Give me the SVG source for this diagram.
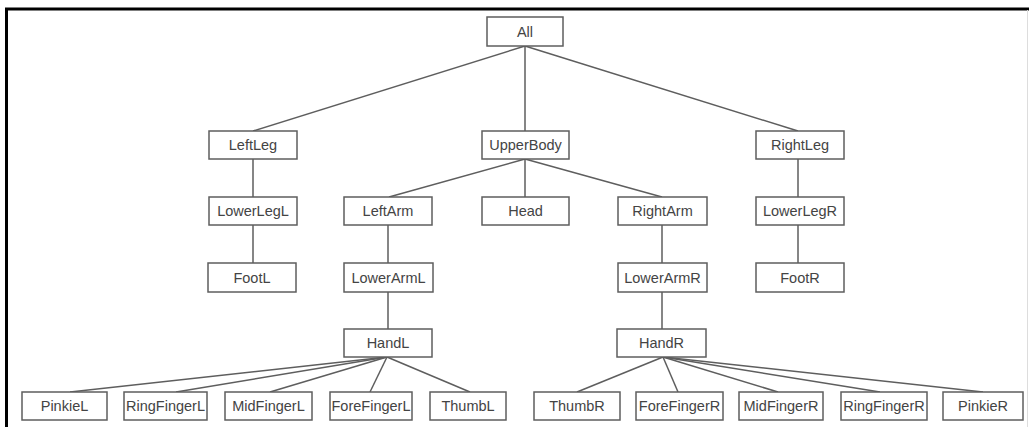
<svg xmlns="http://www.w3.org/2000/svg" width="1029" height="427" viewBox="0 0 1029 427">
<style>
.n rect{fill:#fff;stroke:#5e5e5e;stroke-width:1.5}
.n text{font-family:"Liberation Sans",Arial,sans-serif;font-size:14.5px;fill:#444;text-anchor:middle}
.e line{stroke:#5e5e5e;stroke-width:1.5}
</style>
<rect width="1029" height="427" fill="#fff"/>
<path d="M6.5 427 V9 H1029" fill="none" stroke="#000" stroke-width="3"/>
<line x1="1027.5" y1="10" x2="1027.5" y2="427" stroke="#ddd" stroke-width="1"/>
<g class="e" id="connectors">
<line x1="525" y1="46" x2="253" y2="131"/>
<line x1="525" y1="46" x2="525" y2="131"/>
<line x1="525" y1="46" x2="798" y2="131"/>
<line x1="253" y1="159" x2="253" y2="197"/>
<line x1="253" y1="225" x2="253" y2="263"/>
<line x1="798" y1="159" x2="798" y2="197"/>
<line x1="798" y1="225" x2="798" y2="263"/>
<line x1="525" y1="159" x2="389" y2="197"/>
<line x1="525" y1="159" x2="525" y2="197"/>
<line x1="525" y1="159" x2="662" y2="197"/>
<line x1="388" y1="225" x2="388" y2="263"/>
<line x1="388" y1="292" x2="388" y2="329"/>
<line x1="662" y1="225" x2="662" y2="263"/>
<line x1="662" y1="292" x2="662" y2="329"/>
<line x1="387" y1="357" x2="70" y2="392"/>
<line x1="387" y1="357" x2="176" y2="392"/>
<line x1="387" y1="357" x2="270" y2="392"/>
<line x1="387" y1="357" x2="370" y2="392"/>
<line x1="387" y1="357" x2="470" y2="392"/>
<line x1="663" y1="357" x2="577" y2="392"/>
<line x1="663" y1="357" x2="678" y2="392"/>
<line x1="663" y1="357" x2="778" y2="392"/>
<line x1="663" y1="357" x2="880" y2="392"/>
<line x1="663" y1="357" x2="983" y2="392"/>
</g>
<g class="n" id="All"><rect x="487" y="17" width="76" height="29"/><text x="525" y="36.5">All</text></g>
<g class="n" id="LeftLeg"><rect x="209" y="131" width="88" height="28"/><text x="253" y="150">LeftLeg</text></g>
<g class="n" id="UpperBody"><rect x="482" y="131" width="87" height="28"/><text x="525.5" y="150">UpperBody</text></g>
<g class="n" id="RightLeg"><rect x="756" y="131" width="88" height="28"/><text x="800" y="150">RightLeg</text></g>
<g class="n" id="LowerLegL"><rect x="209" y="197" width="88" height="28"/><text x="253" y="216">LowerLegL</text></g>
<g class="n" id="LeftArm"><rect x="344" y="197" width="88" height="28"/><text x="388" y="216">LeftArm</text></g>
<g class="n" id="Head"><rect x="482" y="197" width="87" height="28"/><text x="525.5" y="216">Head</text></g>
<g class="n" id="RightArm"><rect x="618" y="197" width="89" height="28"/><text x="662.5" y="216">RightArm</text></g>
<g class="n" id="LowerLegR"><rect x="756" y="197" width="88" height="28"/><text x="800" y="216">LowerLegR</text></g>
<g class="n" id="FootL"><rect x="208" y="263" width="88" height="29"/><text x="252" y="282.5">FootL</text></g>
<g class="n" id="LowerArmL"><rect x="344" y="263" width="89" height="29"/><text x="388.5" y="282.5">LowerArmL</text></g>
<g class="n" id="LowerArmR"><rect x="618" y="263" width="89" height="29"/><text x="662.5" y="282.5">LowerArmR</text></g>
<g class="n" id="FootR"><rect x="756" y="263" width="88" height="29"/><text x="800" y="282.5">FootR</text></g>
<g class="n" id="HandL"><rect x="344" y="329" width="88" height="28"/><text x="388" y="348">HandL</text></g>
<g class="n" id="HandR"><rect x="617" y="329" width="89" height="28"/><text x="661.5" y="348">HandR</text></g>
<g class="n" id="PinkieL"><rect x="22" y="392" width="85" height="28"/><text x="64.5" y="411">PinkieL</text></g>
<g class="n" id="RingFingerL"><rect x="124" y="392" width="83" height="28"/><text x="165.5" y="411">RingFingerL</text></g>
<g class="n" id="MidFingerL"><rect x="225" y="392" width="87" height="28"/><text x="268.5" y="411">MidFingerL</text></g>
<g class="n" id="ForeFingerL"><rect x="330" y="392" width="82" height="28"/><text x="371" y="411">ForeFingerL</text></g>
<g class="n" id="ThumbL"><rect x="430" y="392" width="76" height="28"/><text x="468" y="411">ThumbL</text></g>
<g class="n" id="ThumbR"><rect x="534" y="392" width="86" height="28"/><text x="577" y="411">ThumbR</text></g>
<g class="n" id="ForeFingerR"><rect x="636" y="392" width="87" height="28"/><text x="679.5" y="411">ForeFingerR</text></g>
<g class="n" id="MidFingerR"><rect x="739" y="392" width="84" height="28"/><text x="781" y="411">MidFingerR</text></g>
<g class="n" id="RingFingerR"><rect x="841" y="392" width="86" height="28"/><text x="884" y="411">RingFingerR</text></g>
<g class="n" id="PinkieR"><rect x="943" y="392" width="80" height="28"/><text x="983" y="411">PinkieR</text></g>
</svg>
